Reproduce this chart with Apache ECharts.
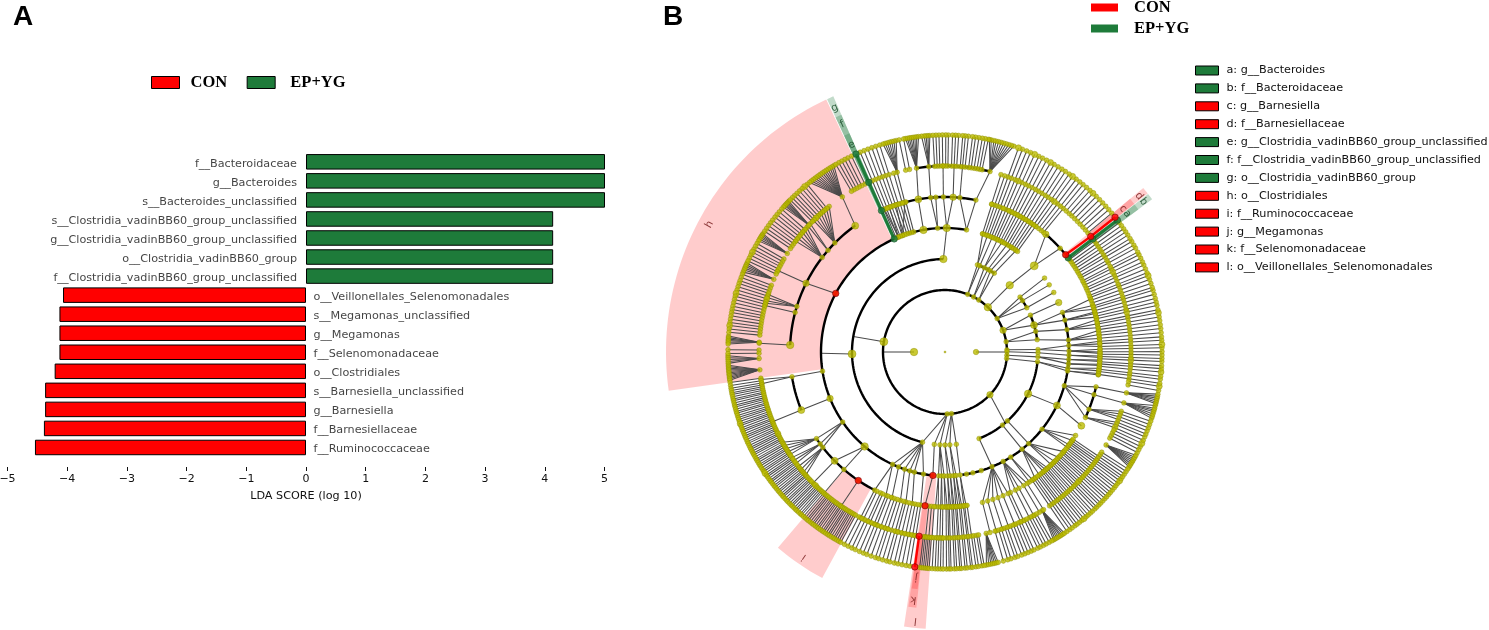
<!DOCTYPE html>
<html><head><meta charset="utf-8">
<style>html,body{margin:0;padding:0;background:#fff}#c{width:1489px;height:630px}</style>
<script src="https://cdn.jsdelivr.net/npm/echarts@6/dist/echarts.min.js"></script>
</head><body><div id="c"></div>
<script>
// ---------- Panel A data ----------
const taxa = ['f__Bacteroidaceae','g__Bacteroides','s__Bacteroides_unclassified','s__Clostridia_vadinBB60_group_unclassified','g__Clostridia_vadinBB60_group_unclassified','o__Clostridia_vadinBB60_group','f__Clostridia_vadinBB60_group_unclassified','o__Veillonellales_Selenomonadales','s__Megamonas_unclassified','g__Megamonas','f__Selenomonadaceae','o__Clostridiales','s__Barnesiella_unclassified','g__Barnesiella','f__Barnesiellaceae','f__Ruminococcaceae'];
const scoresEP = [5.06,5.06,5.06,4.14,4.14,4.14,4.14,null,null,null,null,null,null,null,null,null];
const scoresCON = [null,null,null,null,null,null,null,-4.07,-4.13,-4.13,-4.13,-4.21,-4.37,-4.37,-4.39,-4.54];

// ---------- Panel B data: angles in degrees (0 = east, counter-clockwise), ring = taxonomic level ----------
const edges12 = [[0,0],[180,180]];
const edges23 = [[170.4,170.4],[68.5,69.6,68],[62.5,65,62.5],[57,60.7,58],[46.3,45.9],[32.7,36.2,33.5,28.4],[20.5,23.3,16.8],[9.5,12.8,7.6],[2,1.5],[0.3,-0.5],[-3,-3],[-6,-6],[-43.5,-49.7],[-88,256,263.4,266.9],[-84,-90,-87,-83]];
const edges34 = [[181.2,180.6],[91,89.2],[69.6,72.3,70],[68,67.6],[65,65,62.5],[62.5,60],[60.7,57.5],[58,55],[45.9,44],[36.2,36.6],[33.5,32.8],[28.4,28.7],[23.3,23.5],[16.8,18.6,14.9],[12.8,10.4],[7.6,5.5],[1.5,3,0.5],[-0.5,-1.5],[-3,-3.5,-5.5],[-6,-7.5,-8.8],[-68.5,-67.7],[-51.8,-51.6],[-47.8,-47.6],[-26.7,-25.5],[256,245,248,251,253.5,255.7,260],[263.4,264.4],[266.9,267,268.4,269.6],[-90,-88.8,-87.5],[-87,-86,-84.9],[-83,-83]];
const edges45 = [[100,99.9],[93.4,95.3,93.4],[89.2,90.6,87],[80,84.5,78.5],[110,105,108.4],[112,111,113],[44,49.4,42],[18.6,20,17.5,16],[14.9,15,14.4,13],[10.4,12,10.5,9],[5.5,8,6.5,5],[3,4,3,2],[0.5,1,0,-0.5],[-1.5,-1.5,-2],[-3.5,-3,-3.5],[-5.5,-5,-4.5],[-7.5,-6,-7],[-8.8,-8.5,-8],[-15.8,-25,-21.7,-16,-13],[-25.5,-28.4],[-38.5,-38,-36.8,-34.8,-32.6],[-47.6,-46.7,-45,-42.9,-40],[-51.6,-54.5,-52.5,-50.5,-49.5,-48.5],[-58,-57,-55.6],[-62,-65,-63,-61.5,-59.5,-58],[-67.7,-76,-74,-72,-70,-68,-66],[151.8,153.7],[188.9,189.2],[202,202],[214.4,214,216.4,218],[229.6,229.3,224.6],[245,243,247.6],[248,250],[251,253.3],[253.5,255.4],[255.7,257.8],[260,261],[264.4,262.6],[267,266.5,267.5],[268.4,268.4,269],[269.6,-90,-89.2],[-88.8,-88.5,-87.9],[-87.5,-87.2,-86.6],[-86,-86,-85.2],[-84.9,-84.5,-83.8],[-83,-83,-82.2]];
const spokes45 = [72.4,71.3,70.2,69.1,68,66.8,65.7,64.6,63.4,62.3,61.2,60,58.9,57.7,56.5,55.4,54.2,104.6,105.7,106.8,107.9,109,110.1,111.2,112.2,113.2];
const edges56 = [[125.4,123.5],[135.3,128.5,129.6,130.7,131.8,132.9,134,135],[139,136.4,137.4],[142.4,138,139,140,141.2,142.3,143.4],[153.7,154],[162.9,162,163,164,164.8],[165.2,165.5],[177.4,177.3],[189.2,188.5,189.8],[202,202],[214,209,210.2,211.3,212.4,213.5],[216.4,214.6,215.7,216.8],[218,218,219.2,220.4,221.5],[224.6,224.8],[229.3,229.4],[236,236],[99.9,98.8],[95.3,95],[90.6,90.6],[87,87.2],[84.5,84.6],[78.5,76],[105,104.9],[-25,-24,-23,-22.2],[-21.7,-21.3,-20.4,-19.5,-18.6],[-16,-15.9],[-13,-12.7]];
const spokes56 = [243,244,245.4,246.3,247.6,248.5,249.8,251,252.1,253.3,254.5,255.4,256.6,257.8,258.9,260,261,264,265,266,267.5,268.4,269.2,-89.6,-88.9,-88.4,-87.5,-86.9,-86.1,-85.6,-84.7,-84.1,-83.2,-82.7,-81.8,-76,-74,-72,-70,-68,-66,-65,-63,-61.5,-59.5,-58,-55.8,-54.9,-54.1,-53.2,-52.5,-51.7,-50.9,-50.2,-49.4,-48.7,-47.9,-47.2,-46.3,-45.6,-44.8,-44.1,-43.3,-42.5,-41.8,-41,-40.3,-39.5,-38.7,-38,-37.2,-36.4,-35.7,-35,-34.2,-8.3,-7.2,-6.4,-5.3,-4.4,-3.6,-2.5,-1.7,-0.8,0.1,1.1,2,3.1,4,5.1,6.2,7.2,8.3,9.3,10.4,11.2,12.4,13.3,14.3,15.4,16.5,17.3,18.4,19.5,20.6,21.4,22.5,23.6,24.5,25.6,26.6,27.4,28.6,29.5,30.6,31.5,32.6,33.6,34.6,35.6,36.6,50.5,51.6,52.8,54,55.1,56.3,57.4,58.6,59.8,60.9,62.1,63.3,64.4,65.6,66.8,67.9,69.1,70.2,71.3,72.5,106,107.5,108.6,109.7,110.8,111.9,113];
const fans67 = [[-77.2,-79,-78.4,-77.8,-77.3,-76.8,-76.3,-75.8],[-58.5,-60,-59.5,-59,-58.5,-58,-57.6,-57.1,-56.6],[-30,-32,-31.5,-31,-30.5,-30,-29.5,-29,-28.4],[-15.9,-17.8,-17.2,-16.6,-16,-15.5,-15,-14.3],[-12.7,-13.8,-13.3,-12.8,-12.3,-11.8,-11.2],[76,71.5,72.2,72.9,73.6,74.3,75,75.7,76.4,77,77.7,78.2],[95,94,94.5,95,95.5,96.2],[98.8,97,97.5,98,98.5,99,99.5,100,100.5],[104.9,103,103.6,104.2,104.8,105.4,106,106.6],[123.5,120.8,121.4,122,122.6,123.2,123.8,124.4,125,125.6,126.2,126.8,127.4,128,128.6],[137,136,136.4,136.8,137.2,137.6,138.1],[148,147,147.4,147.8,148.2,148.7,149.2],[157,155.8,156.3,156.8,157.3,157.8,158.4],[177,175.8,176.2,176.6,177,177.4,177.9],[182,181,181.5,182,182.5,183],[185.5,183.5,183.9,184.3,184.7,185.1,185.5,185.9,186.3,186.7,187.1,187.5]];
const spokes67 = [-89.6,-88.9,-88.4,-87.5,-86.9,-86.1,-85.6,-84.7,-84.1,-83.2,-82.7,-81.8,-81.1,-80.2,-79.6,-74.4,-73.2,-72.3,-71.2,-70.4,-69.3,-68.4,-67.5,-66.6,-65.8,-64.7,-63.9,-63,-62.2,-61.3,-60.5,-55.8,-54.9,-54.1,-53.2,-52.5,-51.7,-50.9,-50.2,-49.4,-48.7,-47.9,-47.2,-46.3,-45.6,-44.8,-44.1,-43.3,-42.5,-41.8,-41,-40.3,-39.5,-38.7,-38,-37.2,-36.4,-35.7,-35,-34.2,-33.4,-32.6,-27.6,-26.7,-25.8,-24.9,-24,-23,-22.2,-21.3,-20.4,-19.5,-18.6,-10.2,-9.1,-8.3,-7.2,-6.4,-5.3,-4.4,-3.6,-2.5,-1.7,-0.8,0.1,1.1,2,3.1,4,5.1,6.2,7.2,8.3,9.3,10.4,11.2,12.4,13.3,14.3,15.4,16.5,17.3,18.4,19.5,20.6,21.4,22.5,23.6,24.5,25.6,26.6,27.4,28.6,29.5,30.6,31.5,32.6,33.6,34.6,35.6,36.6,39.8,41,42.2,43.4,44.6,45.8,47,48.1,49.3,50.5,51.6,52.8,54,55.1,56.3,57.4,58.6,59.8,60.9,62.1,63.3,64.4,65.6,66.8,67.9,69.1,70.2,78.5,79.3,80.1,81,81.9,82.7,83.8,84.6,85.3,86.4,87.2,88,89.1,89.8,90.7,91.6,92.4,93.2,101,102.2,107.5,108.6,109.7,110.8,111.9,113,115.5,116.6,117.5,118.4,119.3,120.2,129.4,130.3,131.2,132.1,133,133.9,134.7,135.5,138.8,139.8,140.7,141.6,142.6,143.5,144.4,145.3,146.2,150,150.9,151.8,152.6,153.5,154.4,155.2,159,159.9,160.8,161.6,162.5,163.4,164.3,165.1,166,166.9,167.8,168.7,169.5,170.4,171.3,172.2,173,173.9,174.8,179.4,180.4,188.1,188.9,189.6,190.2,190.8,191.3,191.9,192.5,193,193.6,194.2,194.7,195.3,195.9,196.4,197,197.6,198.1,198.7,199.3,199.8,200.4,201,201.5,202.1,202.7,203.2,203.8,204.4,204.9,205.5,206.1,206.6,207.2,207.8,208.3,208.9,209.5,210,210.6,211.2,211.7,212.3,212.9,213.4,214,214.6,215.1,215.7,216.3,216.8,217.4,218,218.5,219.1,219.7,220.2,220.8,221.4,221.9,222.5,223.1,223.6,224.2,224.8,225.3,225.9,226.5,227,227.6,228.2,228.7,229.3,229.9,230.5,231,231.6,232.2,232.7,233.3,233.9,234.4,235,235.6,236.1,236.7,237.3,237.8,238.4,239,239.5,240.1,240.7,241.3,242.4,243.5,244.6,245.6,246.8,247.9,248.9,250.1,251.3,252.2,253.3,254.4,255.3,256.5,257.5,258.6,259.7,260.7,263.3,263.8,264.3,264.8,265.3,265.8,266.6,267.4,268.1,268.8,269.5];
const extraL5 = [38.9,37.4,139,135.3,142.4,125.4,162.9,165.2,177.4,-13];
const extraL4 = [100,93.4,80,-80,-77,-73,-15.8,-38.5];
const arcsL2 = [[-90,270]];
const arcsL3 = [[91,256],[58,69.6],[28.4,36.2],[7.6,23.3],[-68.5,-6]];
const arcsL4 = [[113.6,265],[54.5,72.3],[107.6,80],[-82,-3],[-9,18.6]];
const arcsL5 = [[125.4,177.4],[189.2,202],[214,243],[38.9,49.4],[78.5,105],[-25,-13]];
const arcsL6 = [[76,99]];
const bigNodes = [[1,0,5.5],[1,180,7.5],[2,170.4,8],[2,46.3,7.5],[2,20.5,6.5],[2,-43.5,6.5],[3,181.2,8],[3,91,7.5],[3,45.9,7.5],[3,16.8,7],[3,-26.7,7.5],[4,44,8],[4,-25.5,7],[4,202,6.5],[4,229.6,7.5],[4,100,7.5],[4,89.2,7.5],[4,23.5,6.5],[5,99.9,7],[5,87,6.5],[5,153.7,6.5],[5,177.4,7.5],[5,202,7],[5,125.4,7],[5,224.6,7],[5,49.4,6.5],[5,-28.4,7],
 [7,70.2,6.2],[7,65.6,6.2],[7,60.9,6],[7,54,6.2],[7,47,6],[7,20.6,6.2],[7,10.4,6],[7,2,6.2],[7,-5.3,6],[7,-24.9,6.2],[7,-36.4,6],[7,-50.2,6],[7,130.3,6.2],[7,152.6,6],[7,164.3,6.2],[7,173,6],[7,199.3,6],[7,214,6.2],[7,-9.1,6],[6,66.8,6],[6,54,6],[6,25.6,6],[6,12.4,6],[6,-2.5,6],[6,-24,6],[6,-44.1,6],[6,133.9,6],[6,163.4,6],[6,206.1,6],[6,225.9,6]];
const redNodes = [[4,151.8],[5,236],[5,38.9],[6,38.4],[7,38.4],[4,264.4],[5,262.6],[6,262],[7,262]];
const greenNodes = [[4,114.2],[5,114.2],[6,114.2],[7,114.2],[5,37.4],[6,37.4],[7,37.4]];
const greenPaths = [[[4,114.2],[7,114.2]],[[5,37.4],[7,37.4]]];
const redPaths = [[[5,38.9],[6,38.4]],[[6,38.4],[7,38.4]],[[6,262],[7,262]]];
const cladeNames = ['a: g__Bacteroides','b: f__Bacteroidaceae','c: g__Barnesiella','d: f__Barnesiellaceae','e: g__Clostridia_vadinBB60_group_unclassified','f: f__Clostridia_vadinBB60_group_unclassified','g: o__Clostridia_vadinBB60_group','h: o__Clostridiales','i: f__Ruminococcaceae','j: g__Megamonas','k: f__Selenomonadaceae','l: o__Veillonellales_Selenomonadales'];
const cladeSide = ['EP','EP','CON','CON','EP','EP','EP','CON','CON','CON','CON','CON'];
const cladeAngles = [[36.4,37.9],[36.4,37.9],[38,39.6],[38,39.6],[113.6,115],[113.6,115],[113.6,115],[115.2,188],[229.5,241.5],[262,263.4],[261.8,263.6],[261.5,266]];
const cladeRings = [[6,7.75],[5,8.3],[6,7.75],[5,8.3],[6,7.7],[5,8.35],[4,9],[4,9],[5,8.3],[6,7.7],[5,8.3],[4,8.95]];
const cladeLabelRing = [7.37,8.03,7.37,8.03,7.33,8.05,8.64,8.64,8.03,7.33,8.05,8.72];

const RED='#ff0000', GREEN='#1e7b3a', YEL='#bcbc00', YEDGE='#8a8a00';
const sideColor = {EP:GREEN, CON:RED};

// ---------- tree assembly ----------
const edgeRows=[], nodeRows=[];
function addGroups(level, groups){
  groups.forEach(g=>g.slice(1).forEach(c=>edgeRows.push([level,g[0],level+1,c])));
}
function addSpokes(level, list){ list.forEach(a=>edgeRows.push([level,a,level+1,a])); }
addGroups(1,edges12);addGroups(2,edges23);addGroups(3,edges34);addGroups(4,edges45);addGroups(5,edges56);addGroups(6,fans67);
addSpokes(4,spokes45);addSpokes(5,spokes56);addSpokes(6,spokes67);
const defSize={0:2,1:5,2:4.8,3:4.8,4:4.8,5:4.8,6:4.8,7:4.8};
const seen={};
function addNode(l,a){const k=l+'_'+a; if(seen[k]) return; seen[k]=1; nodeRows.push([l,a,defSize[l]]);}
addNode(0,0);
edges12.forEach(g=>addNode(1,g[0]));
[edges23,edges34,edges45,edges56,fans67].forEach((gs,i)=>{
  const l=i+2;
  gs.forEach(g=>{ if(!(l===2&&g[0]===180)) addNode(l,g[0]); g.slice(1).forEach(c=>{ if(!(l===2&&(c===170.4||c===-49.7))&&!(l===3&&c===180.6)) addNode(l+1,c);});});
});
spokes45.forEach(a=>{addNode(4,a);addNode(5,a);});
spokes56.forEach(a=>{addNode(5,a);addNode(6,a);});
spokes67.forEach(a=>{addNode(6,a);addNode(7,a);});
extraL5.forEach(a=>addNode(5,a));extraL4.forEach(a=>addNode(4,a));
bigNodes.forEach(b=>{const r=nodeRows.find(n=>n[0]===b[0]&&n[1]===b[1]); if(r) r[2]=b[2]; else nodeRows.push(b.slice());});

// ---------- render helpers ----------
function polyAlong(api,r,a0,a1){
  const pts=[],n=Math.max(2,Math.ceil(Math.abs(a1-a0)/1.5));
  for(let i=0;i<=n;i++) pts.push(api.coord([r,a0+(a1-a0)*i/n]));
  return pts;
}
function arcSeries(level,arcs){
  return {type:'custom',coordinateSystem:'polar',silent:true,z:4,data:arcs,
    renderItem:(p,api)=>({type:'polyline',shape:{points:polyAlong(api,level,api.value(0),api.value(1))},style:{stroke:'#000',lineWidth:2.4,fill:null}})};
}
function pathSeries(paths,color,w,z){
  return {type:'custom',coordinateSystem:'polar',silent:true,z:z,data:paths.map(p=>[p[0][0],p[0][1],p[1][0],p[1][1]]),
    renderItem:(p,api)=>{const a=api.coord([api.value(0),api.value(1)]),b=api.coord([api.value(2),api.value(3)]);
      return {type:'line',shape:{x1:a[0],y1:a[1],x2:b[0],y2:b[1]},style:{stroke:color,lineWidth:w}};}};
}
const cladeSeries = cladeNames.map((nm,i)=>({
  name:nm,type:'custom',coordinateSystem:'polar',silent:true,z:1,
  itemStyle:{color:sideColor[cladeSide[i]]},
  data:[[cladeAngles[i][0],cladeAngles[i][1],cladeRings[i][0],cladeRings[i][1],cladeLabelRing[i]]],
  renderItem:(p,api)=>{
    const a0=api.value(0),a1=api.value(1),r0=api.value(2),r1=api.value(3),lr=api.value(4);
    const pts=polyAlong(api,r1,a0,a1).concat(polyAlong(api,r0,a1,a0));
    const mid=(a0+a1)/2, c=api.coord([lr,mid]);
    const col=sideColor[cladeSide[i]];
    return {type:'group',children:[
      {type:'polygon',shape:{points:pts},style:{fill:col,opacity:cladeSide[i]==='EP'?0.27:0.2}},
      {type:'text',x:c[0],y:c[1],rotation:(mid-90)*Math.PI/180,z2:5,
        style:{text:nm.charAt(0),fill:cladeSide[i]==='EP'?'#1c4f2c':'#7a2020',fontFamily:'DejaVu Sans',fontSize:10.5,align:'center',verticalAlign:'middle',opacity:0.85}}
    ]};
  }
}));

const fontS='"DejaVu Sans"', fontT='"Liberation Serif"';
const option={
  animation:false,backgroundColor:'#fff',
  title:[
    {text:'A',left:8,top:-2,textStyle:{fontFamily:'"Liberation Sans"',fontWeight:'bold',fontSize:28,color:'#000'}},
    {text:'B',left:658,top:-2,textStyle:{fontFamily:'"Liberation Sans"',fontWeight:'bold',fontSize:28,color:'#000'}}
  ],
  legend:[
    {data:['CON','EP+YG'],icon:'rect',left:146,top:69,itemWidth:28,itemHeight:12,itemGap:19.5,selectedMode:false,
     formatter:n=>n==='EP+YG'?' '+n:n,
     itemStyle:{borderColor:'#000',borderWidth:1},textStyle:{fontFamily:fontT,fontWeight:'bold',fontSize:16.5,color:'#000',padding:[0,0,0,6]}},
    {data:['CON','EP+YG'],icon:'rect',orient:'vertical',left:1086,top:-6,itemWidth:27,itemHeight:8,itemGap:4,selectedMode:false,
     itemStyle:{borderWidth:0},textStyle:{fontFamily:fontT,fontWeight:'bold',fontSize:16.5,color:'#000',padding:[0,0,0,11]}},
    {data:cladeNames,orient:'vertical',icon:'rect',left:1190,top:59.5,itemWidth:23,itemHeight:9,itemGap:5.9,selectedMode:false,
     itemStyle:{borderColor:'#000',borderWidth:1},textStyle:{fontFamily:fontS,fontSize:11.2,color:'#111',lineHeight:12,padding:[0,0,0,3]}}
  ],
  grid:{left:7.5,width:597,top:152.3,height:304.7,containLabel:false,outerBoundsMode:'none'},
  xAxis:{type:'value',min:-5,max:5,interval:1,offset:10,splitLine:{show:false},axisLine:{show:false},
    axisTick:{show:true,length:4,lineStyle:{color:'#111'}},
    axisLabel:{margin:7,fontFamily:fontS,fontSize:11,color:'#111',formatter:v=>String(v).replace('-','\u2212')},
    name:'LDA SCORE (log 10)',nameLocation:'middle',nameGap:24,nameTextStyle:{fontFamily:fontS,fontSize:11.2,color:'#111'}},
  yAxis:{type:'category',inverse:true,data:taxa,show:false},
  polar:{center:[945,352],radius:279},
  radiusAxis:{min:0,max:9,show:false},
  angleAxis:{type:'value',min:-90,max:270,startAngle:-90,clockwise:false,show:false},
  series:[
    {name:'CON',type:'bar',stack:'s',data:scoresCON,barWidth:15.5,itemStyle:{color:RED,borderColor:'#000',borderWidth:1}},
    {name:'EP+YG',type:'bar',stack:'s',data:scoresEP,barWidth:15.5,itemStyle:{color:GREEN,borderColor:'#000',borderWidth:1}},
    {type:'scatter',silent:true,symbolSize:1,itemStyle:{color:'rgba(0,0,0,0)'},z:5,
      data:taxa.map((t,i)=>({value:[0,i],name:t,label:{position:scoresEP[i]!==null?'left':'right',distance:scoresEP[i]!==null?8.5:7}})),
      label:{show:true,formatter:'{b}',fontFamily:fontS,fontSize:11.2,color:'#111',offset:[0,2]}},
    ...cladeSeries,
    {type:'custom',coordinateSystem:'polar',silent:true,z:3,data:edgeRows,
      renderItem:(p,api)=>{const a=api.coord([api.value(0),api.value(1)]),b=api.coord([api.value(2),api.value(3)]);
        return {type:'line',shape:{x1:a[0],y1:a[1],x2:b[0],y2:b[1]},style:{stroke:'#4a4a4a',lineWidth:1.05}};}},
    arcSeries(2,arcsL2),arcSeries(3,arcsL3),arcSeries(4,arcsL4),arcSeries(5,arcsL5),arcSeries(6,arcsL6),
    {type:'scatter',coordinateSystem:'polar',silent:true,z:6,data:nodeRows.map(n=>[n[0],n[1],n[2]]),
      symbolSize:v=>v[2],itemStyle:{color:YEL,borderColor:YEDGE,borderWidth:0.5}},
    pathSeries(greenPaths,GREEN,3.2,7),
    {type:'scatter',coordinateSystem:'polar',silent:true,z:8,data:greenNodes,symbolSize:6.5,itemStyle:{color:GREEN,borderColor:'#0c4a20',borderWidth:0.6}},
    pathSeries(redPaths,RED,2.4,9),
    {type:'scatter',coordinateSystem:'polar',silent:true,z:10,data:redNodes,symbolSize:6.5,itemStyle:{color:RED,borderColor:'#600',borderWidth:0.7}}
  ]
};
const chart=echarts.init(document.getElementById('c'),null,{renderer:'canvas'});
chart.setOption(option);
</script></body></html>
